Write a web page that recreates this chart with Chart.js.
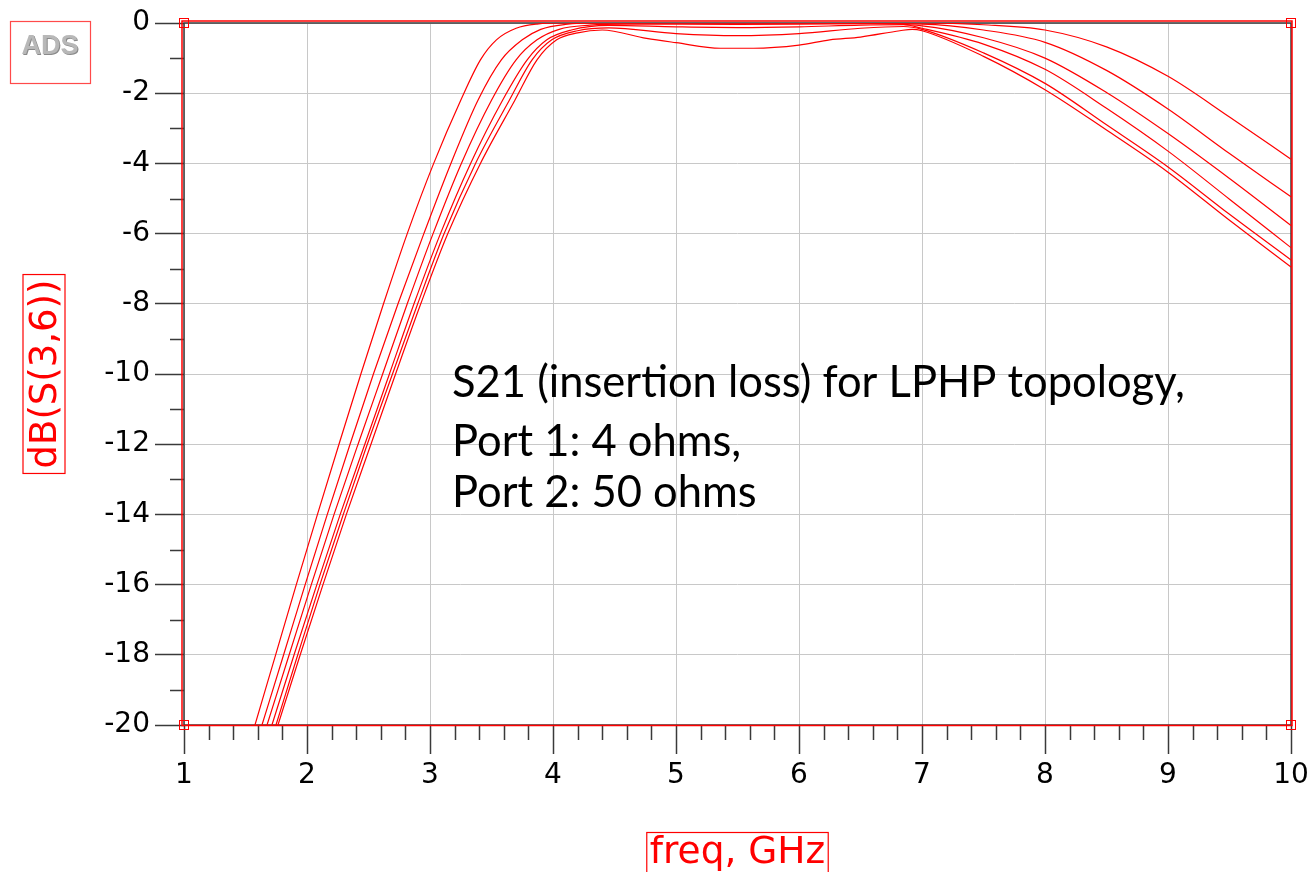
<!DOCTYPE html>
<html>
<head>
<meta charset="utf-8">
<title>dB(S(3,6)) vs freq</title>
<script src="https://cdn.jsdelivr.net/npm/chart.js@4.4.1/dist/chart.umd.min.js"></script>
<style>
  html, body { margin: 0; padding: 0; background: #fff; }
  #wrap { width: 1312px; height: 872px; position: relative; }
</style>
</head>
<body>
<div id="wrap"><canvas id="c"></canvas></div>
<script>
// Swept S21 traces (freq in GHz, magnitude in dB), one pair of arrays per trace.
const freq1 = [1.577, 1.745, 1.913, 2.085, 2.26, 2.438, 2.622, 2.815, 3.03, 3.25, 3.41, 3.54, 3.70, 3.87, 4.1, 5.0, 6.0, 7.0, 7.5, 8.0, 8.5, 9.0, 9.5, 10.0];
const db1   = [-20, -18, -16, -14, -12, -10, -8, -6, -4, -2.2, -1.05, -0.48, -0.15, -0.03, 0, 0, 0, 0, -0.05, -0.2, -0.68, -1.52, -2.68, -3.88];

const freq2 = [1.634, 1.81, 1.985, 2.165, 2.35, 2.54, 2.74, 2.95, 3.17, 3.39, 3.58, 3.75, 3.90, 4.10, 4.40, 5.0, 6.0, 7.0, 7.5, 8.0, 8.5, 9.0, 9.5, 10.0];
const db2   = [-20, -18, -16, -14, -12, -10, -8, -6, -4, -2.2, -1.05, -0.48, -0.18, -0.04, 0, 0, 0, -0.03, -0.2, -0.55, -1.35, -2.45, -3.72, -4.95];

const freq3 = [1.675, 1.855, 2.035, 2.22, 2.415, 2.615, 2.815, 3.025, 3.255, 3.50, 3.70, 3.87, 4.05, 4.30, 4.6, 5.5, 6.5, 7.0, 7.5, 8.0, 8.5, 9.0, 9.5, 10.0];
const db3   = [-20, -18, -16, -14, -12, -10, -8, -6, -4, -2.2, -1.05, -0.48, -0.18, -0.06, -0.03, -0.04, -0.02, -0.08, -0.42, -1.0, -1.98, -3.15, -4.43, -5.77];

const freq4 = [1.715, 1.895, 2.08, 2.27, 2.47, 2.67, 2.87, 3.085, 3.33, 3.59, 3.79, 3.95, 4.15, 4.45, 5.0, 5.5, 6.0, 6.5, 6.85, 7.0, 7.5, 8.0, 8.5, 9.0, 9.5, 10.0];
const db4   = [-20, -18, -16, -14, -12, -10, -8, -6, -4, -2.2, -1.05, -0.48, -0.2, -0.07, -0.11, -0.13, -0.11, -0.06, -0.05, -0.15, -0.6, -1.32, -2.43, -3.65, -5.02, -6.4];

const freq5 = [1.748, 1.925, 2.105, 2.295, 2.49, 2.695, 2.90, 3.115, 3.37, 3.645, 3.83, 3.99, 4.2, 4.45, 5.0, 5.5, 6.0, 6.5, 6.85, 7.0, 7.5, 8.0, 8.5, 9.0, 9.5, 10.0];
const db5   = [-20, -18, -16, -14, -12, -10, -8, -6, -4, -2.2, -1.05, -0.48, -0.22, -0.14, -0.3, -0.36, -0.3, -0.15, -0.1, -0.18, -0.85, -1.72, -2.9, -4.1, -5.45, -6.75];

const freq6 = [1.764, 1.945, 2.13, 2.32, 2.52, 2.72, 2.925, 3.145, 3.41, 3.69, 3.87, 4.03, 4.2, 4.4, 4.76, 5.0, 5.36, 5.63, 6.0, 6.25, 6.5, 6.82, 6.92, 7.0, 7.5, 8.0, 8.5, 9.0, 9.5, 10.0];
const db6   = [-20, -18, -16, -14, -12, -10, -8, -6, -4, -2.2, -1.05, -0.48, -0.28, -0.2, -0.44, -0.56, -0.72, -0.72, -0.63, -0.48, -0.4, -0.22, -0.18, -0.22, -0.95, -1.9, -3.05, -4.25, -5.62, -6.95];

// Axis ranges and tick spacing
const xRange = [1, 10];
const yRange = [-20, 0];
const xStep = 1, yStep = 2;
const xMinorStep = 0.2, yMinorStep = 1;

// Text shown on the plot
const yTitle = 'dB(S(3,6))';
const xTitle = 'freq, GHz';
const logoText = 'ADS';
const noteLines = ['S21 (insertion loss) for LPHP topology,', 'Port 1: 4 ohms,', 'Port 2: 50 ohms'];

const traces = [[freq1, db1], [freq2, db2], [freq3, db3], [freq4, db4], [freq5, db5], [freq6, db6]];

const RED = '#ff0000';
const FRAME = '#3a3a3a';
const TICK_FONT = { family: 'DejaVu Sans', size: 28 };

// Frame, minor ticks, selection box, titles and the note text
const adsDecor = {
  id: 'adsDecor',
  beforeDraw(chart) {
    const ctx = chart.ctx;
    ctx.save();
    ctx.fillStyle = '#fff';
    ctx.fillRect(0, 0, chart.width, chart.height);
    ctx.restore();
  },
  beforeDatasetsDraw(chart) {
    const { ctx, chartArea: a, scales: { x, y } } = chart;
    ctx.save();
    // plot frame
    ctx.strokeStyle = FRAME;
    ctx.lineWidth = 1.5;
    ctx.strokeRect(a.left, a.top, a.right - a.left, a.bottom - a.top);
    // minor ticks
    ctx.lineWidth = 1.5;
    ctx.beginPath();
    for (let v = yRange[0] + yMinorStep; v < yRange[1]; v += yMinorStep) {
      if (Math.abs(v % yStep) < 1e-6) continue;
      const py = Math.round(y.getPixelForValue(v)) + 0.5;
      ctx.moveTo(a.left - 14, py);
      ctx.lineTo(a.left, py);
    }
    for (let k = 1; k < Math.round((xRange[1] - xRange[0]) / xMinorStep); k++) {
      if (k % Math.round(xStep / xMinorStep) === 0) continue;
      const v = xRange[0] + k * xMinorStep;
      const px = Math.round(x.getPixelForValue(v)) + 0.5;
      ctx.moveTo(px, a.bottom);
      ctx.lineTo(px, a.bottom + 15);
    }
    ctx.stroke();
    ctx.restore();
  },
  afterDraw(chart) {
    const { ctx, chartArea: a } = chart;
    ctx.save();
    // selection rectangle with corner handles
    ctx.strokeStyle = RED;
    ctx.lineWidth = 1.5;
    ctx.strokeRect(a.left - 2, a.top - 2, a.right - a.left + 3, a.bottom - a.top + 2.5);
    ctx.lineWidth = 1;
    [[a.left, a.top], [a.right, a.top], [a.left, a.bottom], [a.right, a.bottom]].forEach(([cx, cy]) => {
      ctx.strokeRect(Math.round(cx) - 4.5, Math.round(cy) - 4.5, 9, 9);
    });

    // y title, rotated, in a red box
    const midY = (a.top + a.bottom) / 2;
    ctx.font = '37px "DejaVu Sans"';
    const yw = ctx.measureText(yTitle).width;
    ctx.save();
    ctx.translate(44, midY);
    ctx.rotate(-Math.PI / 2);
    ctx.fillStyle = RED;
    ctx.textAlign = 'center';
    ctx.textBaseline = 'middle';
    ctx.fillText(yTitle, 0, 2);
    ctx.lineWidth = 1.2;
    ctx.strokeRect(-yw / 2 - 5, -21, yw + 10, 42);
    ctx.restore();

    // x title in a red box
    const midX = (a.left + a.right) / 2;
    ctx.font = '37.5px "DejaVu Sans"';
    const xw = ctx.measureText(xTitle).width;
    ctx.fillStyle = RED;
    ctx.textAlign = 'center';
    ctx.textBaseline = 'alphabetic';
    ctx.fillText(xTitle, midX, 863);
    ctx.strokeStyle = RED;
    ctx.lineWidth = 1.2;
    ctx.strokeRect(midX - xw / 2 - 3, 832.5, xw + 6, 50);

    // logo box
    ctx.strokeStyle = '#ff4a4a';
    ctx.lineWidth = 1.2;
    ctx.strokeRect(10.5, 21.5, 80, 62);
    ctx.font = 'bold 27px "Liberation Sans"';
    ctx.textAlign = 'center';
    ctx.textBaseline = 'middle';
    ctx.fillStyle = '#8a8a8a';
    ctx.fillText(logoText, 51, 48);
    ctx.fillStyle = '#b8b8b8';
    ctx.fillText(logoText, 50, 47);

    // note text
    ctx.fillStyle = '#000';
    ctx.font = '43.5px Lato';
    ctx.textAlign = 'left';
    ctx.textBaseline = 'alphabetic';
    const base = [397, 456, 507];
    noteLines.forEach((t, i) => ctx.fillText(t, 452, base[i]));
    ctx.restore();
  }
};

new Chart(document.getElementById('c'), {
  type: 'line',
  data: {
    datasets: traces.map(([f, d], i) => ({
      label: 'trace ' + (i + 1),
      data: f.map((v, j) => ({ x: v, y: d[j] })),
      borderColor: RED,
      borderWidth: 1.2,
      pointRadius: 0,
      fill: false,
      cubicInterpolationMode: 'monotone'
    }))
  },
  options: {
    responsive: true,
    maintainAspectRatio: false,
    animation: false,
    devicePixelRatio: 1,
    layout: { padding: { top: 23, right: 21, left: 0, bottom: 0 } },
    plugins: { legend: { display: false }, tooltip: { enabled: false } },
    scales: {
      x: {
        type: 'linear',
        min: xRange[0], max: xRange[1],
        afterFit(s) { s.height = 147; s.paddingLeft = 0; s.paddingRight = 0; },
        ticks: { stepSize: xStep, padding: 5, color: '#000', font: TICK_FONT, maxRotation: 0, autoSkip: false },
        grid: { color: '#c8c8c8', lineWidth: 1, tickColor: FRAME, tickLength: 29, tickWidth: 1.5 },
        border: { display: false }
      },
      y: {
        type: 'linear',
        min: yRange[0], max: yRange[1],
        afterFit(s) { s.width = 184; s.paddingTop = 0; s.paddingBottom = 0; },
        ticks: { stepSize: yStep, padding: 5, color: '#000', font: TICK_FONT },
        grid: { color: '#c8c8c8', lineWidth: 1, tickColor: FRAME, tickLength: 29, tickWidth: 1.5 },
        border: { display: false }
      }
    }
  },
  plugins: [adsDecor]
});
</script>
</body>
</html>
